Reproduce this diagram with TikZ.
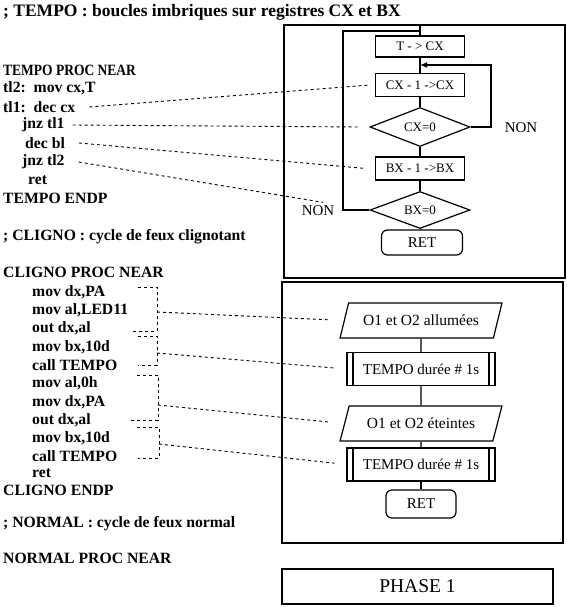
\documentclass[tikz,border=0pt]{standalone}
\usepackage{fontspec}
\setmainfont{Liberation Serif}
\usetikzlibrary{shapes.geometric,arrows.meta}

\begin{document}
\begin{tikzpicture}[x=1pt, y=-1pt,
    code/.style={anchor=west, inner sep=0pt, font=\fontsize{15.7}{18}\selectfont\bfseries},
    box/.style={draw, line width=1.2pt, minimum width=89pt, minimum height=23pt, inner sep=1pt, font=\fontsize{13}{15}\selectfont},
    test/.style={draw, diamond, line width=1.2pt, aspect=2.5, minimum width=100pt, minimum height=39pt, inner sep=0pt, font=\fontsize{13}{15}\selectfont},
    retbox/.style={draw, rounded corners=6pt, line width=1.2pt, minimum width=81pt, minimum height=25pt, font=\fontsize{15}{17}\selectfont},
    io/.style={draw, trapezium, trapezium left angle=58, trapezium right angle=122, trapezium stretches=true, line width=1.2pt, minimum width=162pt, minimum height=35pt, inner sep=0pt, font=\fontsize{15.5}{17}\selectfont},
    sub/.style={draw, line width=1.2pt, minimum width=148pt, minimum height=33pt, font=\fontsize{15}{17}\selectfont,
        path picture={\draw[line width=1.2pt] ([xshift=6pt]path picture bounding box.north west) -- ([xshift=6pt]path picture bounding box.south west)
            ([xshift=-6pt]path picture bounding box.north east) -- ([xshift=-6pt]path picture bounding box.south east);}},
    lbl/.style={inner sep=0pt, font=\fontsize{15}{17}\selectfont},
    flow/.style={line width=1.2pt},
    link/.style={line width=0.9pt, dash pattern=on 3pt off 3pt},
    panel/.style={line width=1.6pt}]
    \useasboundingbox (0,0) rectangle (566,607);

    % listing
    \node (ttitle) [code, font=\fontsize{17.5}{20}\selectfont\bfseries] at (3,12) {; TEMPO : boucles imbriques sur registres CX et BX};
    \node (tproc) [code] at (3,70) {\scalebox{0.86}[1]{TEMPO PROC NEAR}};
    \node (tltwo) [code] at (3,88) {tl2:\ \ mov cx,T};
    \node (tlone) [code] at (3,107) {tl1:\ \ dec cx};
    \node (jnzone) [code] at (22,125) {jnz tl1};
    \node (decbl) [code] at (25,143) {dec bl};
    \node (jnztwo) [code] at (22,162) {jnz tl2};
    \node (tret) [code] at (28,180) {ret};
    \node (tendp) [code] at (3,198) {TEMPO ENDP};

    \node (ctitle) [code] at (3,237) {; CLIGNO : cycle de feux clignotant};
    \node (cproc) [code] at (3,272) {CLIGNO PROC NEAR};
    \node (cone) [code] at (32,292) {mov dx,PA};
    \node (ctwo) [code] at (32,310.3) {mov al,LED11};
    \node (cthree) [code] at (32,328.6) {out dx,al};
    \node (cfour) [code] at (32,346.9) {mov bx,10d};
    \node (cfive) [code] at (32,365.2) {call TEMPO};
    \node (csix) [code] at (32,383.5) {mov al,0h};
    \node (cseven) [code] at (32,401.8) {mov dx,PA};
    \node (ceight) [code] at (32,420.1) {out dx,al};
    \node (cnine) [code] at (32,438.4) {mov bx,10d};
    \node (cten) [code] at (32,456) {call TEMPO};
    \node (cret) [code] at (32,473) {ret};
    \node (cendp) [code] at (3,490) {CLIGNO ENDP};

    \node (ntitle) [code] at (3,524) {; NORMAL : cycle de feux normal};
    \node (nproc) [code] at (3,558) {NORMAL PROC NEAR};

    % TEMPO chart
    \draw [panel] (284,25) rectangle (565,278);
    \coordinate (ptop) at (420,25);
    \coordinate (entry) at (420,31);
    \coordinate (loopL) at (343,0);
    \coordinate (loopR) at (491,0);
    \coordinate (jone) at (420,65);

    \node (tcx) [box, minimum height=21pt] at (420,46.5) {T - > CX};
    \node (cxone) [box] at (420,85) {CX - 1 ->CX};
    \node (cxtest) [test] at (420,127) {CX=0};
    \node (bxone) [box] at (420,168.5) {BX - 1 ->BX};
    \node (bxtest) [test, minimum height=37pt] at (420,210) {BX=0};
    \node (rettop) [retbox] at (422,242.5) {RET};
    \node (nonr) [lbl] at (521,128) {NON};
    \node (nonl) [lbl] at (318,211) {NON};

    \draw [flow] (ptop) -- (tcx);
    \draw [flow] (tcx) -- (cxone);
    \draw [flow] (cxone) -- (cxtest);
    \draw [flow] (cxtest) -- (bxone);
    \draw [flow] (bxone) -- (bxtest);
    \draw [flow] (bxtest) -- (rettop);
    \draw [flow, -{Latex[length=7pt,width=6pt]}] (cxtest.east) -- (cxtest.east -| loopR) |- (jone);
    \draw [flow] (bxtest.west) -- (bxtest.west -| loopL) |- (entry);

    \draw [link] ([xshift=14pt]tlone.east) -- ([xshift=-5pt]cxone.west);
    \draw [link] ([xshift=8pt]jnzone.east) -- ([xshift=-11pt]cxtest.west);
    \draw [link] ([xshift=14pt]decbl.east) -- ([xshift=-9pt]bxone.west);
    \draw [link, shorten >=47pt] ([xshift=14pt]jnztwo.east) -- (bxtest.west);

    % CLIGNO chart
    \draw [panel] (282,282) rectangle (563,543);
    \node (allum) [io] at (421,320.5) {O1 et O2 allumées};
    \node (tempoa) [sub] at (421,369) {TEMPO durée \# 1s};
    \node (etein) [io] at (421,423.5) {O1 et O2 éteintes};
    \node (tempob) [sub] at (421,464.5) {TEMPO durée \# 1s};
    \node (retbot) [retbox, minimum width=70pt, minimum height=28pt] at (421,504) {RET};

    \draw [flow] (allum) -- (tempoa);
    \draw [flow] (tempoa) -- (etein);
    \draw [flow] (etein) -- (tempob);
    \draw [flow] (tempob) -- (retbot);

    % brackets
    \coordinate (ma) at (157,312);
    \coordinate (mb) at (157,353);
    \coordinate (mc) at (158,405);
    \coordinate (md) at (159,444);
    \draw [link] (138,287) -- (157,287) -- (157,331) -- (130,331);
    \draw [link] (138,336) -- (157,336) -- (157,365) -- (138,365);
    \draw [link] (137,375) -- (158,375) -- (158,420) -- (130,420);
    \draw [link] (137,427) -- (159,427) -- (159,458) -- (138,458);
    \draw [link, shorten >=14pt] (ma) -- (allum.west);
    \draw [link, shorten >=12pt] (mb) -- (tempoa.west);
    \draw [link, shorten >=16pt] (mc) -- (etein.west);
    \draw [link, shorten >=12pt] (md) -- (tempob.west);

    \node (phase) [draw, line width=1.2pt, minimum width=271pt, minimum height=35pt, font=\fontsize{19.5}{22}\selectfont] at (417.5,586.5) {PHASE 1};
\end{tikzpicture}
\end{document}
